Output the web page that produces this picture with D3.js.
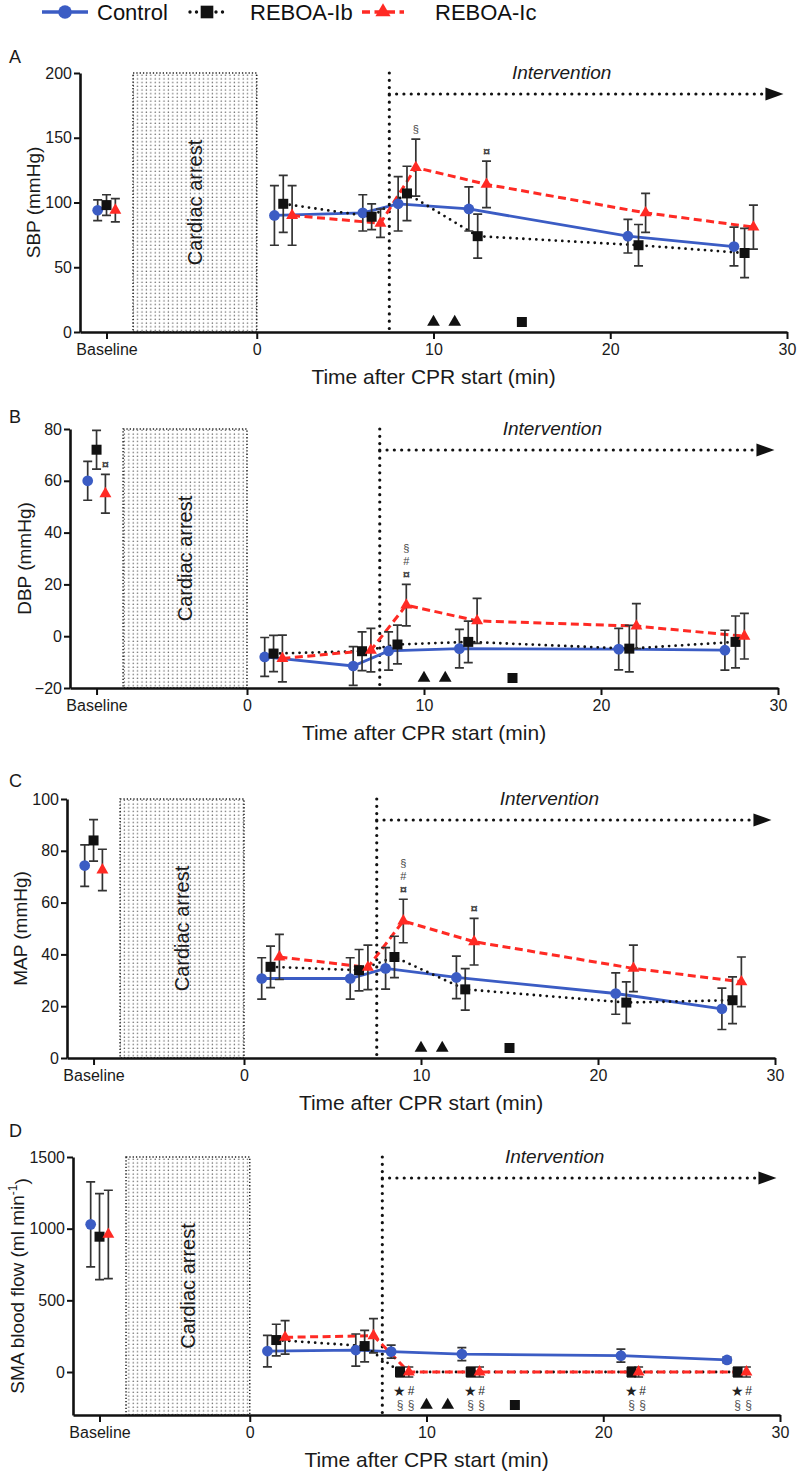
<!DOCTYPE html>
<html>
<head>
<meta charset="utf-8">
<title>Haemodynamics and SMA blood flow</title>
<script src="https://cdn.jsdelivr.net/npm/d3@7"></script>
<style>
  body { margin: 0; background: #fff; }
  svg { display: block; font-family: "Liberation Sans", Arial, sans-serif; }
  .axis .domain { stroke: #111; stroke-width: 2.6; }
  .axis .tick line { stroke: #111; stroke-width: 2; }
  .axis .tick text { font-size: 16px; fill: #1a1a1a; }
</style>
</head>
<body>
<script>
// groups and sampling times (min after CPR start)
var groups = ["Control", "REBOA-Ib", "REBOA-Ic"];
var baselineTime = [-9, -8.5, -8];   // baseline points sit side by side
var timeControl = [1, 6, 8, 12, 21, 27];
var timeIb = [1.5, 6.5, 8.5, 12.5, 21.6, 27.6];
var timeIc = [2, 7, 9, 13, 22, 28.1];
var times = [timeControl, timeIb, timeIc];

var xTicks = [-8.5, 0, 10, 20, 30];
var arrestStart = -7, arrestEnd = 0, interventionStart = 7.5;
var eventTriangles = [10, 11.2];
var eventSquares = [15];

// A - SBP (mmHg), first value = baseline
var sbpTicks = [0, 50, 100, 150, 200];
var sbpControl = [94, 90, 92, 99, 95, 74, 66];
var sbpControlErr = [8, 23, 14, 21, 17, 13, 15];
var sbpIb = [98, 99, 89, 107, 74, 67, 61];
var sbpIbErr = [8, 22, 10, 21, 17, 16, 19];
var sbpIc = [94, 90, 84, 127, 114, 92, 81];
var sbpIcErr = [9, 23, 11, 22, 18, 15, 17];
var notesA = [[2, 3, ["§"]], [2, 4, ["¤"]]];

// B - DBP (mmHg)
var dbpTicks = [-20, 0, 20, 40, 60, 80];
var dbpControl = [60, -8, -11.5, -5.7, -4.8, -5, -5.4];
var dbpControlErr = [7.5, 7.5, 7.5, 7.4, 7.4, 8, 7.7];
var dbpIb = [72, -6.7, -5.8, -3.2, -2.2, -4.8, -2.2];
var dbpIbErr = [7.5, 7, 7.5, 7.5, 8, 9, 10];
var dbpIc = [55, -8.6, -5.4, 12, 5.9, 3.9, 0];
var dbpIcErr = [7.5, 9, 8.4, 8, 8.7, 8.7, 8.8];
var notesB = [[2, 0, ["¤"]], [2, 3, ["¤", "#", "§"]]];

// C - MAP (mmHg)
var mapTicks = [0, 20, 40, 60, 80, 100];
var mapControl = [74.3, 30.7, 30.7, 34.6, 31.1, 24.9, 19];
var mapControlErr = [8, 8, 8, 8, 8.2, 8, 8];
var mapIb = [84, 35.2, 33.9, 39, 26.5, 21.4, 22.3];
var mapIbErr = [8, 8, 8, 8, 8, 8, 9];
var mapIc = [72.6, 39, 35, 52.9, 44.9, 34.6, 29.4];
var mapIcErr = [8, 8.7, 8.6, 8.4, 9, 9, 9.6];
var notesC = [[2, 3, ["¤", "#", "§"]], [2, 4, ["¤"]]];

// D - SMA blood flow (ml/min)
var smaTicks = [0, 500, 1000, 1500];
var smaControl = [1030, 146, 153, 142, 125, 114, 84];
var smaControlErr = [297, 110, 112, 45, 45, 45, 20];
var smaIb = [944, 223, 181, 0, 0, 0, 0];
var smaIbErr = [300, 110, 110, 35, 35, 35, 35];
var smaIc = [960, 242, 253, 0, 0, 0, 0];
var smaIcErr = [308, 117, 120, 35, 35, 35, 35];
// marks under the REBOA points: rows of [left, right]
var notesBelowD = [[1, [3, 4, 5, 6], [["★", "#"], ["§", "§"]]]];

var seriesStyle = [
    { color: "#3b5cc4", dash: null, width: 2.8, symbol: d3.symbolCircle, size: 90 },
    { color: "#111", dash: "0 6.5", width: 2.8, symbol: d3.symbolSquare, size: 100 },
    { color: "#ff2a24", dash: "8 4.5", width: 3, symbol: d3.symbolTriangle, size: 62 }
];

var panels = [
    { letter: "A", letterY: 63, top: 73, bottom: 332, left: 80, right: 787, yDomain: [0, 200], yTicks: sbpTicks,
      yLabel: "SBP (mmHg)", labelX: 33, values: [sbpControl, sbpIb, sbpIc],
      errors: [sbpControlErr, sbpIbErr, sbpIcErr], notes: notesA },
    { letter: "B", letterY: 423, top: 429, bottom: 688, left: 70, right: 778, yDomain: [-20, 80], yTicks: dbpTicks,
      yLabel: "DBP (mmHg)", labelX: 24, values: [dbpControl, dbpIb, dbpIc],
      errors: [dbpControlErr, dbpIbErr, dbpIcErr], notes: notesB },
    { letter: "C", letterY: 787, top: 799, bottom: 1058, left: 67, right: 775, yDomain: [0, 100], yTicks: mapTicks,
      yLabel: "MAP (mmHg)", labelX: 20, values: [mapControl, mapIb, mapIc],
      errors: [mapControlErr, mapIbErr, mapIcErr], notes: notesC },
    { letter: "D", letterY: 1137, top: 1157, bottom: 1415, left: 73, right: 780, yDomain: [-300, 1500], yTicks: smaTicks,
      yLabel: "SMA blood flow (ml min", labelSup: "-1", labelX: 17, values: [smaControl, smaIb, smaIc],
      errors: [smaControlErr, smaIbErr, smaIcErr], notes: [], notesBelow: notesBelowD }
];

var svg = d3.select("body").append("svg")
    .attr("width", 800)
    .attr("height", 1473);

// stippled fill for the cardiac arrest period
var pat = svg.append("defs").append("pattern")
    .attr("id", "stipple")
    .attr("patternUnits", "userSpaceOnUse")
    .attr("width", 4.4)
    .attr("height", 3.7);
pat.append("circle").attr("cx", 1.2).attr("cy", 1.2).attr("r", 0.75).attr("fill", "#555");

function pointAt(p, s, i) {
    return {
        t: i === 0 ? baselineTime[s] : times[s][i - 1],
        v: p.values[s][i],
        e: p.errors[s][i]
    };
}

function drawPanel(p) {
    var x = d3.scaleLinear().domain([-10, 30]).range([p.left, p.right]);
    var y = d3.scaleLinear().domain(p.yDomain).range([p.bottom, p.top]);
    var g = svg.append("g");

    // cardiac arrest box
    g.append("rect")
        .attr("x", x(arrestStart))
        .attr("y", p.top)
        .attr("width", x(arrestEnd) - x(arrestStart))
        .attr("height", p.bottom - p.top)
        .attr("fill", "url(#stipple)")
        .attr("stroke", "#222")
        .attr("stroke-width", 1.5)
        .attr("stroke-dasharray", "1.3 2");
    g.append("text")
        .attr("transform", "translate(" + x((arrestStart + arrestEnd) / 2) + "," + ((p.top + p.bottom) / 2) + ") rotate(-90)")
        .attr("text-anchor", "middle")
        .attr("dy", "0.35em")
        .style("font-size", "20px")
        .style("fill", "#1a1a1a")
        .text("Cardiac arrest");

    // intervention marker
    g.append("line")
        .attr("x1", x(interventionStart)).attr("x2", x(interventionStart))
        .attr("y1", p.top).attr("y2", p.bottom)
        .attr("stroke", "#111").attr("stroke-width", 3.2)
        .attr("stroke-linecap", "round").attr("stroke-dasharray", "0 7.3");
    var ay = p.top + 21;
    g.append("line")
        .attr("x1", x(interventionStart)).attr("x2", x(28.7))
        .attr("y1", ay).attr("y2", ay)
        .attr("stroke", "#111").attr("stroke-width", 3.2)
        .attr("stroke-linecap", "round").attr("stroke-dasharray", "0 7.3");
    var tip = x(29.8);
    g.append("path")
        .attr("d", "M" + (tip - 18) + "," + (ay - 6.5) + "L" + tip + "," + ay + "L" + (tip - 18) + "," + (ay + 6.5) + "Z")
        .attr("fill", "#111");
    g.append("text")
        .attr("x", x(17.25))
        .attr("y", p.top + 6)
        .attr("text-anchor", "middle")
        .style("font-size", "19px")
        .style("font-style", "italic")
        .style("fill", "#1a1a1a")
        .text("Intervention");

    // axes
    g.append("g")
        .attr("class", "axis")
        .attr("transform", "translate(0," + p.bottom + ")")
        .call(d3.axisBottom(x).tickValues(xTicks)
            .tickFormat(function (d) { return d === -8.5 ? "Baseline" : d; })
            .tickSize(7).tickSizeOuter(0).tickPadding(5));
    g.append("g")
        .attr("class", "axis")
        .attr("transform", "translate(" + p.left + ",0)")
        .call(d3.axisLeft(y).tickValues(p.yTicks).tickFormat(d3.format("d"))
            .tickSize(6).tickSizeOuter(0).tickPadding(2));

    g.append("text")
        .attr("x", (p.left + p.right) / 2)
        .attr("y", p.bottom + 52)
        .attr("text-anchor", "middle")
        .style("font-size", "21px")
        .style("fill", "#1a1a1a")
        .text("Time after CPR start (min)");

    var yl = g.append("text")
        .attr("transform", "translate(" + p.labelX + "," + ((p.top + p.bottom) / 2) + ") rotate(-90)")
        .attr("text-anchor", "middle")
        .attr("dy", "0.35em")
        .style("font-size", "19px")
        .style("fill", "#1a1a1a")
        .text(p.yLabel);
    if (p.labelSup) {
        yl.append("tspan").attr("dy", "-0.55em").style("font-size", "12px").text(p.labelSup);
        yl.append("tspan").attr("dy", "0.55em").text(")");
    }

    g.append("text")
        .attr("x", 9)
        .attr("y", p.letterY)
        .style("font-size", "18px")
        .style("fill", "#1a1a1a")
        .text(p.letter);

    // lines
    [0, 1, 2].forEach(function (s) {
        var st = seriesStyle[s];
        var pts = times[s].map(function (t, i) { return pointAt(p, s, i + 1); });
        g.append("path")
            .datum(pts)
            .attr("d", d3.line().x(function (d) { return x(d.t); }).y(function (d) { return y(d.v); }))
            .attr("fill", "none")
            .attr("stroke", st.color)
            .attr("stroke-width", st.width)
            .attr("stroke-linecap", st.dash && st.dash.charAt(0) === "0" ? "round" : "butt")
            .attr("stroke-dasharray", st.dash);
    });

    // error bars
    [0, 1, 2].forEach(function (s) {
        var pts = p.values[s].map(function (v, i) { return pointAt(p, s, i); });
        var eb = g.append("g").attr("stroke", "#333").attr("stroke-width", 1.7).attr("fill", "none");
        pts.forEach(function (d) {
            var cx = x(d.t), y0 = y(d.v - d.e), y1 = y(d.v + d.e);
            eb.append("path").attr("d",
                "M" + cx + "," + y0 + "V" + y1 +
                "M" + (cx - 4.5) + "," + y1 + "H" + (cx + 4.5) +
                "M" + (cx - 4.5) + "," + y0 + "H" + (cx + 4.5));
        });
    });

    // markers
    [0, 1, 2].forEach(function (s) {
        var st = seriesStyle[s];
        var pts = p.values[s].map(function (v, i) { return pointAt(p, s, i); });
        g.selectAll(null)
            .data(pts)
            .enter().append("path")
            .attr("transform", function (d) { return "translate(" + x(d.t) + "," + y(d.v) + ")"; })
            .attr("d", d3.symbol().type(st.symbol).size(st.size))
            .attr("fill", st.color);
    });

    // significance marks stacked above the error bars
    p.notes.forEach(function (n) {
        var d = pointAt(p, n[0], n[1]);
        n[2].forEach(function (m, k) {
            g.append("text")
                .attr("x", x(d.t))
                .attr("y", y(d.v + d.e) - 10 - k * 13)
                .attr("dy", "0.35em")
                .attr("text-anchor", "middle")
                .style("font-size", m === "¤" ? "13px" : "11px")
                .style("font-weight", m === "¤" ? "bold" : "normal")
                .style("fill", "#444")
                .text(m);
        });
    });
    // marks under the zero-flow points (panel D)
    (p.notesBelow || []).forEach(function (n) {
        n[1].forEach(function (i) {
            var d = pointAt(p, n[0], i);
            n[2].forEach(function (row, k) {
                row.forEach(function (m, j) {
                    g.append("text")
                        .attr("x", x(d.t) + j * 11)
                        .attr("y", y(d.v) + 19 + k * 14)
                        .attr("dy", "0.35em")
                        .attr("text-anchor", "middle")
                        .style("font-size", m === "★" ? "14px" : "12px")
                        .style("fill", k === 0 ? "#222" : "#555")
                        .text(m);
                });
            });
        });
    });

    // event markers near the time axis
    g.selectAll(null)
        .data(eventTriangles)
        .enter().append("path")
        .attr("transform", function (d) { return "translate(" + x(d) + "," + (p.bottom - 10) + ")"; })
        .attr("d", d3.symbol().type(d3.symbolTriangle).size(70))
        .attr("fill", "#111");
    g.selectAll(null)
        .data(eventSquares)
        .enter().append("path")
        .attr("transform", function (d) { return "translate(" + x(d) + "," + (p.bottom - 10) + ")"; })
        .attr("d", d3.symbol().type(d3.symbolSquare).size(100))
        .attr("fill", "#111");
}

panels.forEach(drawPanel);

// legend
var legendX = [[42, 88], [190, 224], [362, 404]];
var legendText = [97, 250, 435];
var lg = svg.append("g");
groups.forEach(function (name, s) {
    var st = seriesStyle[s];
    lg.append("line")
        .attr("x1", legendX[s][0]).attr("x2", legendX[s][1])
        .attr("y1", 12).attr("y2", 12)
        .attr("stroke", st.color)
        .attr("stroke-width", st.width + 0.6)
        .attr("stroke-linecap", st.dash && st.dash.charAt(0) === "0" ? "round" : "butt")
        .attr("stroke-dasharray", st.dash);
    lg.append("path")
        .attr("transform", "translate(" + ((legendX[s][0] + legendX[s][1]) / 2) + ",12)")
        .attr("d", d3.symbol().type(st.symbol).size(st.size * 1.6))
        .attr("fill", st.color);
    lg.append("text")
        .attr("x", legendText[s])
        .attr("y", 20)
        .style("font-size", "22px")
        .style("fill", "#111")
        .text(name);
});
</script>
</body>
</html>
